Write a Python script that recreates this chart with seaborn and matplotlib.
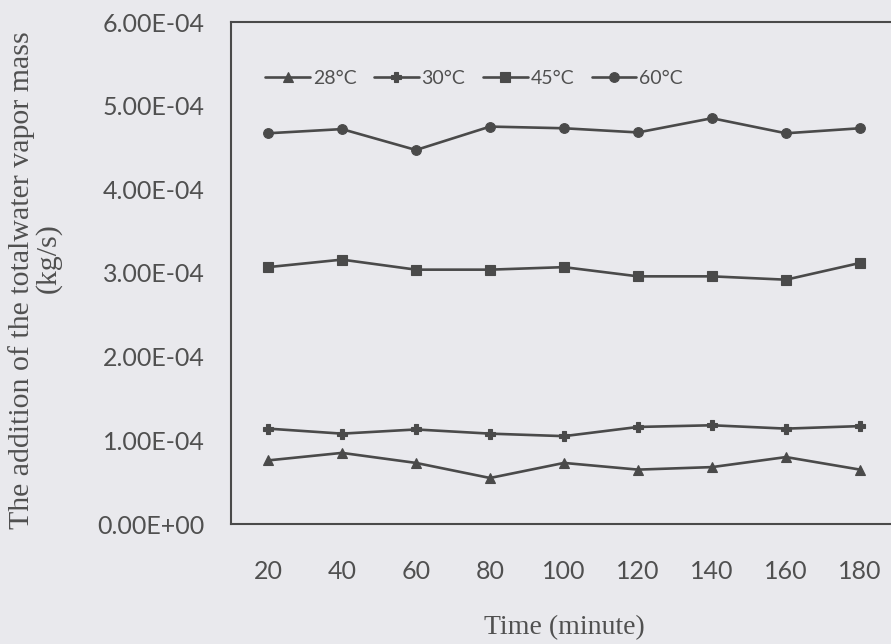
import pandas as pd
import seaborn as sns
import matplotlib.pyplot as plt

# time steps (minute)
time_min = [20, 40, 60, 80, 100, 120, 140, 160, 180]
# vapor mass addition (x 1e-4 kg/s)
t28 = [0.76, 0.85, 0.73, 0.55, 0.73, 0.65, 0.68, 0.80, 0.65]
t30 = [1.14, 1.08, 1.13, 1.08, 1.05, 1.16, 1.18, 1.14, 1.17]
t45 = [3.07, 3.16, 3.04, 3.04, 3.07, 2.96, 2.96, 2.92, 3.12]
t60 = [4.67, 4.72, 4.47, 4.75, 4.73, 4.68, 4.85, 4.67, 4.73]
labels = ['28°C', '30°C', '45°C', '60°C']
y_ticks = [0, 1e-4, 2e-4, 3e-4, 4e-4, 5e-4, 6e-4]

rows = []
for lab, vals in zip(labels, [t28, t30, t45, t60]):
    for i, v in enumerate(vals):
        rows.append({'pos': i, 'Time': time_min[i], 'mass': v * 1e-4, 'Temp': lab})
data = pd.DataFrame(rows)

bg = '#e9e9ed'
ink = '#4a4a4a'
txt = '#505050'

sns.set_style('white')
plt.rcParams['font.family'] = ['Lato', 'DejaVu Sans']

fig = plt.figure(figsize=(8.91, 6.44), dpi=100, facecolor=bg)
ax = fig.add_axes([231/891, 1-524/644, 666/891, 502/644])
ax.set_facecolor(bg)

sns.lineplot(data=data, x='pos', y='mass', hue='Temp', style='Temp',
             palette=[ink]*4, markers={'28°C': '^', '30°C': 'P', '45°C': 's', '60°C': 'o'},
             dashes=False, linewidth=1.9, markersize=7, markeredgewidth=0.8,
             markeredgecolor=ink, ax=ax)

ax.set_xlim(-0.5, 8.5)
ax.set_ylim(0, 6e-4)
ax.set_xticks(range(len(time_min)))
ax.set_xticklabels([str(t) for t in time_min])
ax.set_yticks(y_ticks)
ax.set_yticklabels(['%.2E' % v for v in y_ticks])
ax.tick_params(axis='both', colors=ink, labelcolor=txt, labelsize=18,
               direction='out', length=6, width=1.2)
ax.tick_params(axis='x', pad=20)
ax.tick_params(axis='y', pad=13)
for s in ['left', 'bottom', 'top']:
    ax.spines[s].set_color(ink)
    ax.spines[s].set_linewidth(1.5)
ax.spines['right'].set_visible(False)
ax.set_xlabel('')
ax.set_ylabel('')

h, l = ax.get_legend_handles_labels()
ax.legend(h, l, loc='center left', bbox_to_anchor=(0.025, 0.888), ncol=4, frameon=False,
          fontsize=14, handlelength=2.3, columnspacing=0.9, handletextpad=0.15,
          labelcolor=txt)

fig.text(22/891, 1-280/644, 'The addition of the totalwater vapor mass', rotation=90,
         ha='center', va='center', family='Liberation Serif', fontsize=21.5, color=txt)
fig.text(48/891, 1-258/644, '(kg/s)', rotation=90,
         ha='center', va='center', family='Liberation Serif', fontsize=21.5, color=txt)
fig.text(564/891, 1-628/644, 'Time (minute)', ha='center', va='center',
         family='Liberation Serif', fontsize=20, color=txt)

fig.savefig('out.png', dpi=100, facecolor=bg)
